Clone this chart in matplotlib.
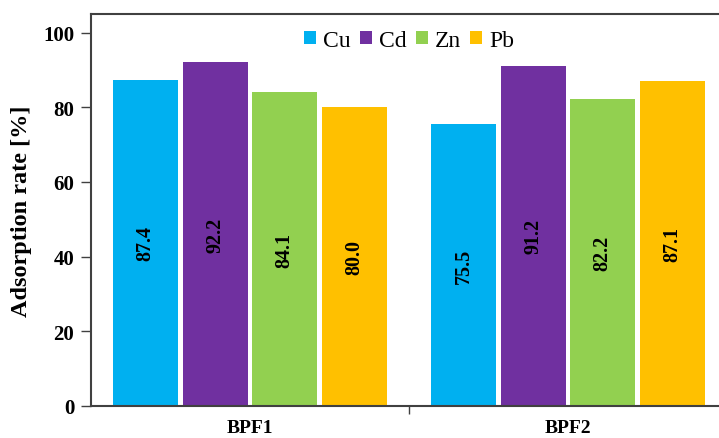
import matplotlib.pyplot as plt
import numpy as np
from matplotlib.patches import Patch

groups = ["BPF1", "BPF2"]
metals = ["Cu", "Cd", "Zn", "Pb"]
colors = ["#00B0F0", "#7030A0", "#92D050", "#FFC000"]
rates = {
    "Cu": [87.4, 75.5],
    "Cd": [92.2, 91.2],
    "Zn": [84.1, 82.2],
    "Pb": [80.0, 87.1],
}

plt.rcParams['font.family'] = ['Liberation Serif', 'DejaVu Serif']

fig = plt.figure(figsize=(7.19, 4.39), dpi=100)
ax = fig.add_axes([91/719, 32/439, 636/719, 392/439])

x = np.arange(len(groups))
step = 0.2186
for i, m in enumerate(metals):
    pos = x + (i - 1.5) * step
    bars = ax.bar(pos, rates[m], width=0.203, color=colors[i], edgecolor='none')
    for b, v in zip(bars, rates[m]):
        ax.text(b.get_x() + b.get_width()/2, v/2, f"{v:.1f}", rotation=90,
                ha='center', va='center', fontsize=14.5, fontweight='bold', color='black')

ax.set_xlim(-0.5, 1.5)
ax.set_ylim(0, 105)
ax.set_yticks([0, 20, 40, 60, 80, 100])
ax.set_xticks([0.5], minor=True)
ax.set_xticks(x)
ax.set_xticklabels(groups, fontsize=14, fontweight='bold')
ax.tick_params(axis='x', which='major', length=0, pad=9.5)
ax.tick_params(axis='x', which='minor', length=6, width=1, color='#404040', direction='out')
ax.tick_params(axis='y', length=7, width=1, color='#404040', direction='out', labelsize=15, pad=5)
for lbl in ax.get_yticklabels():
    lbl.set_fontweight('bold')
ax.set_ylabel("Adsorption rate [%]", fontsize=17.5, fontweight='bold', labelpad=8)

for s in ['left', 'bottom', 'top']:
    ax.spines[s].set_color('#404040')
    ax.spines[s].set_linewidth(1.5)
ax.spines['right'].set_visible(False)

handles = [Patch(facecolor=c, edgecolor='none') for c in colors]
ax.legend(handles, metals, loc='upper center', bbox_to_anchor=(0.5, 0.995),
          ncol=4, frameon=False, prop={'family': 'Liberation Serif', 'size': 17},
          handlelength=0.5, handleheight=0.5,
          handletextpad=0.3, columnspacing=0.4, borderaxespad=0.2)

fig.savefig("out.png", dpi=100)
